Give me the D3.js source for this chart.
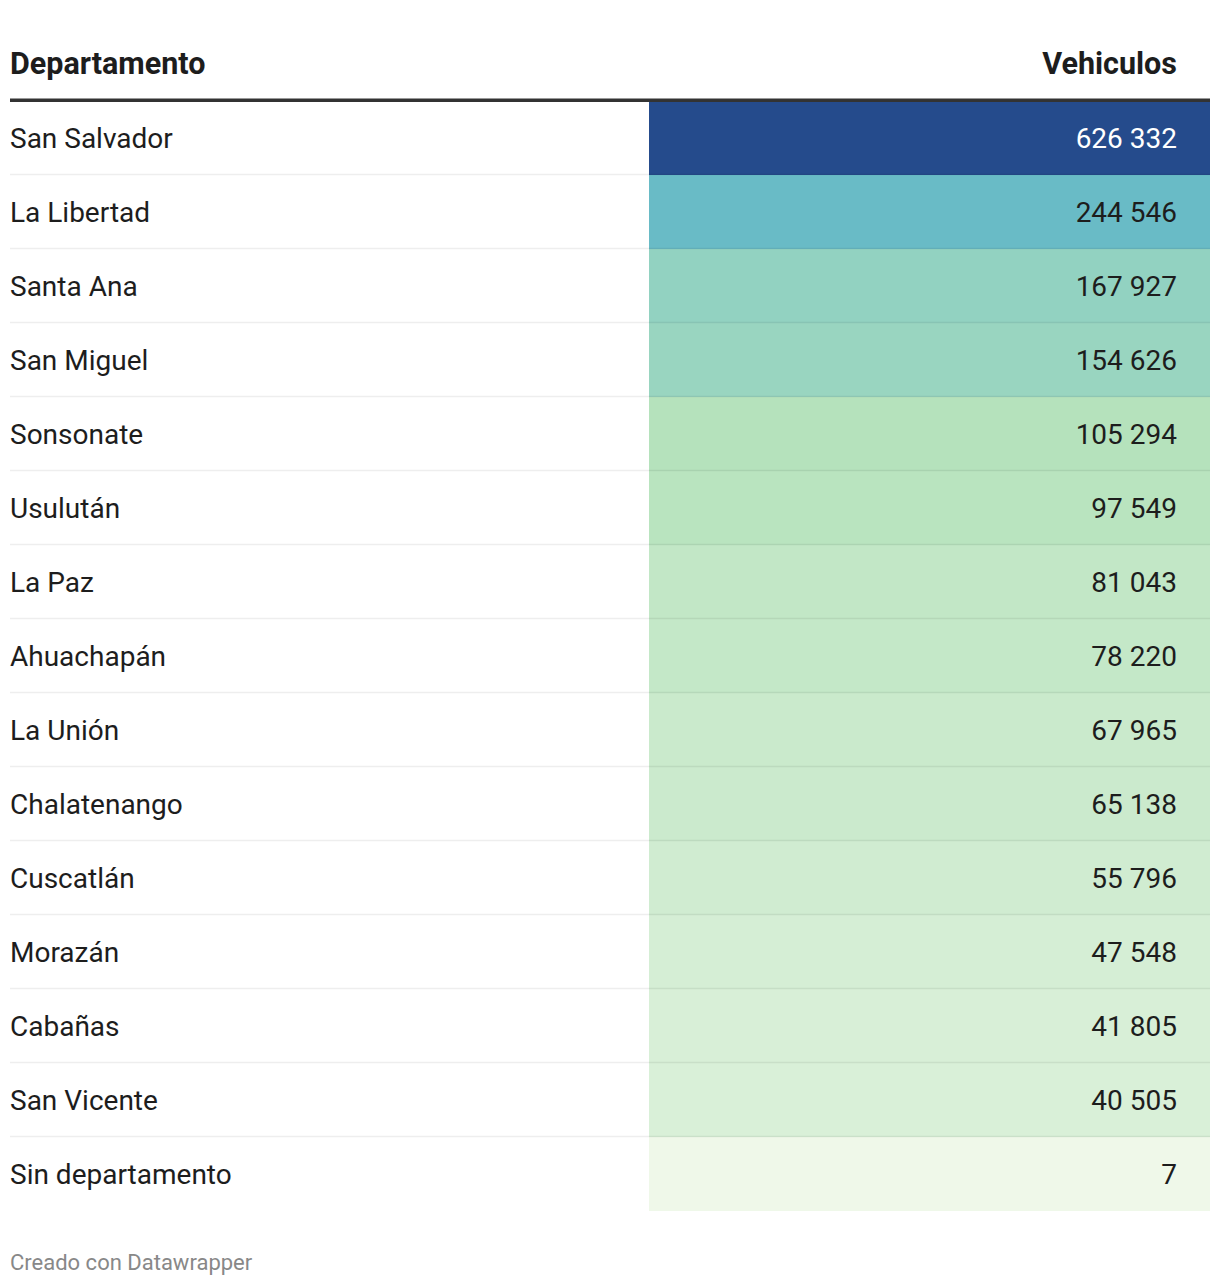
<!DOCTYPE html>
<html>
<head>
<meta charset="utf-8">
<script src="https://cdn.jsdelivr.net/npm/d3@7"></script>
<style>
  html, body { margin: 0; padding: 0; background: #fff; }
  svg { display: block; font-family: Roboto, "Noto Sans", sans-serif; }
</style>
</head>
<body>
<svg id="chart" width="1220" height="1286"></svg>
<script>
// ---- data ----
const departamentos = ["San Salvador","La Libertad","Santa Ana","San Miguel","Sonsonate","Usulután","La Paz","Ahuachapán","La Unión","Chalatenango","Cuscatlán","Morazán","Cabañas","San Vicente","Sin departamento"];
const vehiculos = [626332,244546,167927,154626,105294,97549,81043,78220,67965,65138,55796,47548,41805,40505,7];
const columnHeaders = ["Departamento","Vehiculos"];
const colorStops = [7,105294,167927,244546,626332];
const colorRange = ["#eff8e9","#b5e2bc","#92d2c1","#69bbc6","#254b8c"];
const footerText = "Creado con Datawrapper";

// ---- layout ----
const leftX = 10, rightX = 1210, cellX = 649, valueRight = 1177;
const tableTop = 101, rowH = 74;
const svg = d3.select("#chart");

const y = d3.scaleBand().domain(d3.range(departamentos.length)).range([tableTop, tableTop + rowH*departamentos.length]).padding(0);
const color = d3.scaleLinear().domain(colorStops).range(colorRange).interpolate(d3.interpolateRgb).clamp(true);
const fmt = d3.formatLocale({decimal: ",", thousands: " ", grouping: [3], currency: ["$",""]}).format(",d");

const rows = departamentos.map((d,i) => ({name: d, value: vehiculos[i], i}));

// colored cells
svg.append("g").selectAll("rect").data(rows).join("rect")
  .attr("x", cellX).attr("width", rightX - cellX)
  .attr("y", d => y(d.i)).attr("height", y.bandwidth())
  .attr("fill", d => color(d.value));

// row separators
svg.append("g").selectAll("line").data(rows.slice(0, -1)).join("line")
  .attr("x1", leftX).attr("x2", rightX)
  .attr("y1", d => y(d.i) + rowH - 0.5).attr("y2", d => y(d.i) + rowH - 0.5)
  .attr("stroke", "rgba(0,0,0,0.065)").attr("stroke-width", 1.5);

// header line
svg.append("rect").attr("x", leftX).attr("y", 98.5).attr("width", rightX-leftX).attr("height", 3.5).attr("fill", "#333333");

// headers
svg.append("text").attr("x", leftX).attr("y", 74).attr("font-size", 30.5).attr("font-weight", 700).attr("fill", "#1d1d1d").text(columnHeaders[0]);
svg.append("text").attr("x", valueRight).attr("y", 74).attr("text-anchor", "end").attr("font-size", 30.5).attr("font-weight", 700).attr("fill", "#1d1d1d").text(columnHeaders[1]);

// names
svg.append("g").selectAll("text").data(rows).join("text")
  .attr("x", leftX).attr("y", d => y(d.i) + rowH/2 + 10)
  .attr("font-size", 28).attr("fill", "#1d1d1d")
  .text(d => d.name);

// values
svg.append("g").selectAll("text").data(rows).join("text")
  .attr("x", valueRight).attr("y", d => y(d.i) + rowH/2 + 10)
  .attr("text-anchor", "end").attr("font-size", 28)
  .attr("fill", d => d3.lab(color(d.value)).l < 55 ? "#ffffff" : "#1d1d1d")
  .text(d => fmt(d.value));

// footer
svg.append("text").attr("x", leftX).attr("y", 1270).attr("font-size", 22).attr("fill", "#888888").text(footerText);
</script>
</body>
</html>
